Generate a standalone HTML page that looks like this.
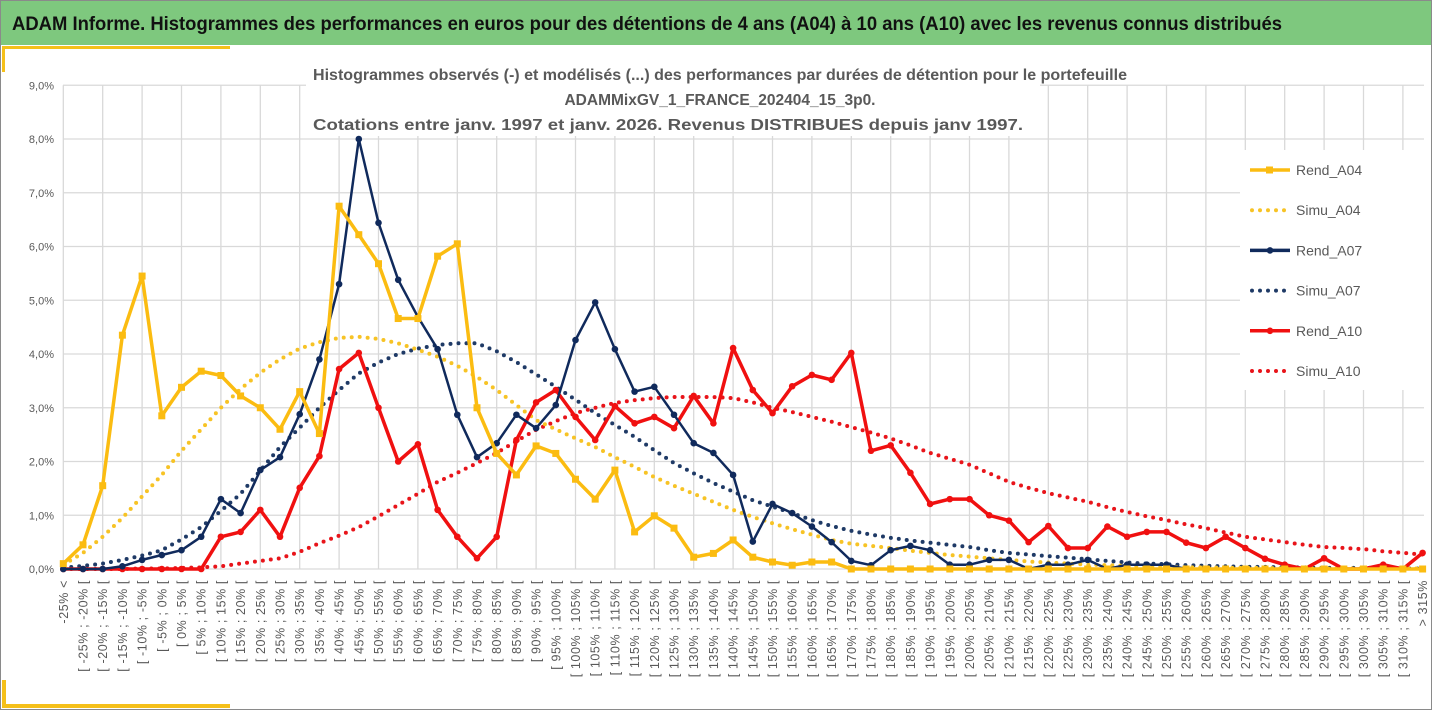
<!DOCTYPE html>
<html><head><meta charset="utf-8"><style>
body{margin:0;width:1432px;height:710px;overflow:hidden;background:#fff;font-family:"Liberation Sans",sans-serif}
</style></head><body>
<svg id="c" width="1432" height="710" xmlns="http://www.w3.org/2000/svg">
<rect x="0.5" y="0.5" width="1431" height="709" fill="#fff" stroke="#8a8a8a"/>
<rect x="1" y="1" width="1430" height="44" fill="#7ec87e"/>
<text x="12" y="30" font-size="19.5" font-weight="bold" fill="#111" textLength="1270" lengthAdjust="spacingAndGlyphs">ADAM Informe. Histogrammes des performances en euros pour des détentions de 4 ans (A04) à 10 ans (A10) avec les revenus connus distribués</text>
<rect x="2" y="46" width="228" height="3" fill="#f5c01a"/>
<rect x="2" y="46" width="3" height="26" fill="#f5c01a"/>
<rect x="2" y="704" width="228" height="4" fill="#f5c01a"/>
<rect x="2" y="680" width="4" height="28" fill="#f5c01a"/>
<g id="grid"></g>
<rect x="306" y="60" width="734" height="76" fill="#fff"/>
<g font-size="15.5" font-weight="bold" fill="#595959" text-anchor="middle">
<text x="720" y="80" textLength="814" lengthAdjust="spacingAndGlyphs">Histogrammes observés (-) et modélisés (...) des performances par durées de détention pour le portefeuille</text>
<text x="720" y="105">ADAMMixGV_1_FRANCE_202404_15_3p0.</text>
<text x="668" y="130" textLength="710" lengthAdjust="spacingAndGlyphs">Cotations  entre janv. 1997 et janv. 2026. Revenus DISTRIBUES depuis janv 1997.</text>
</g>
<g id="series"></g>
<g id="xlabels"></g>
<g id="legend"></g>
</svg>
<script>
const yTicks=[0,1,2,3,4,5,6,7,8,9];
const rendA04=[0.1,0.45,1.55,4.35,5.45,2.85,3.38,3.68,3.6,3.22,3.0,2.6,3.3,2.52,6.75,6.22,5.68,4.66,4.66,5.82,6.05,3.0,2.15,1.75,2.29,2.15,1.67,1.3,1.84,0.69,0.99,0.76,0.22,0.29,0.54,0.22,0.13,0.07,0.13,0.13,0,0,0,0,0,0,0,0,0,0,0,0,0,0,0,0,0,0,0,0,0,0,0,0,0,0,0,0,0,0];
const simuA04=[0.08,0.3,0.6,0.95,1.35,1.75,2.2,2.6,3.0,3.35,3.65,3.9,4.1,4.22,4.3,4.32,4.28,4.2,4.08,3.95,3.78,3.57,3.33,3.05,2.77,2.6,2.43,2.27,2.08,1.9,1.71,1.55,1.4,1.25,1.1,0.97,0.85,0.74,0.64,0.54,0.47,0.43,0.39,0.34,0.3,0.26,0.23,0.2,0.17,0.14,0.12,0.1,0.08,0.07,0.06,0.05,0.04,0.03,0.03,0.02,0.02,0.02,0.01,0.01,0.01,0.01,0.01,0.01,0.01,0.01];
const rendA07=[0,0,0,0.05,0.17,0.26,0.35,0.6,1.3,1.04,1.84,2.08,2.88,3.9,5.3,8.0,6.44,5.38,4.69,4.09,2.87,2.08,2.34,2.87,2.62,3.05,4.26,4.96,4.09,3.3,3.39,2.87,2.34,2.16,1.75,0.51,1.21,1.04,0.79,0.5,0.15,0.07,0.35,0.43,0.35,0.08,0.08,0.17,0.17,0,0.08,0.08,0.17,0,0.08,0.08,0.08,0,0,0,0,0,0,0,0,0,0,0,0,0];
const simuA07=[0.02,0.06,0.1,0.17,0.25,0.35,0.55,0.78,1.08,1.4,1.83,2.27,2.63,3.0,3.33,3.64,3.84,4.0,4.1,4.17,4.2,4.2,4.05,3.85,3.62,3.39,3.15,2.9,2.68,2.46,2.21,1.97,1.78,1.6,1.44,1.28,1.16,1.04,0.91,0.8,0.71,0.64,0.58,0.53,0.49,0.45,0.41,0.35,0.3,0.27,0.24,0.21,0.18,0.15,0.12,0.1,0.09,0.07,0.06,0.05,0.04,0.04,0.03,0.03,0.02,0.02,0.02,0.02,0.01,0.01];
const rendA10=[0,0,0,0,0,0,0,0,0.6,0.69,1.1,0.6,1.51,2.1,3.72,4.02,3.0,2.0,2.32,1.1,0.6,0.2,0.6,2.4,3.1,3.33,2.83,2.4,3.03,2.71,2.83,2.62,3.22,2.71,4.11,3.33,2.9,3.4,3.61,3.52,4.02,2.2,2.3,1.79,1.21,1.3,1.3,1.0,0.9,0.5,0.8,0.39,0.39,0.79,0.6,0.69,0.69,0.49,0.39,0.6,0.39,0.19,0.08,0,0.2,0,0,0.08,0,0.3];
const simuA10=[0,0,0,0,0.01,0.01,0.02,0.03,0.05,0.1,0.15,0.2,0.32,0.48,0.62,0.78,0.98,1.19,1.4,1.62,1.79,1.97,2.16,2.38,2.59,2.75,2.9,3.0,3.09,3.14,3.18,3.2,3.2,3.2,3.18,3.1,3.0,2.92,2.83,2.74,2.64,2.54,2.43,2.3,2.16,2.05,1.94,1.78,1.62,1.51,1.41,1.33,1.25,1.15,1.06,0.98,0.91,0.83,0.76,0.68,0.6,0.55,0.5,0.45,0.41,0.39,0.37,0.33,0.3,0.27];
const NS="http://www.w3.org/2000/svg";
const N=70,X0=63.3,DX=19.7,Y0=569,PY=53.75;
const xs=i=>X0+i*DX, ys=v=>Y0-v*PY;
function mk(t,a,p){const e=document.createElementNS(NS,t);for(const k in a)e.setAttribute(k,a[k]);p.appendChild(e);return e;}
const grid=document.getElementById('grid');
yTicks.forEach(t=>{
 const l=mk('line',{x1:63,x2:1424,y1:ys(t),y2:ys(t),stroke:'#d9d9d9','stroke-width':1.3},grid);
 
 
 const tx=mk('text',{x:54,y:ys(t)+4,'font-size':11,fill:'#595959','text-anchor':'end'},grid);
 tx.textContent=t.toFixed(1).replace('.',',')+'%';
 
 
});
for(let i=0;i<N;i+=2){
 const l=mk('line',{x1:xs(i),x2:xs(i),y1:ys(9),y2:Y0,stroke:'#d9d9d9','stroke-width':1.3},grid);
 
 
}
const cats=[];
for(let i=0;i<N;i++){
 if(i==0)cats.push('-25%  <');
 else if(i==N-1)cats.push('> 315%');
 else{const a=-30+5*i,b=a+5;cats.push('[ '+a+'% ; '+b+'% [');}
}
const xl=document.getElementById('xlabels');
cats.forEach((c,i)=>{
 const t=mk('text',{transform:`translate(${xs(i)+4.5},580) rotate(-90)`,'font-size':12.5,'letter-spacing':'0.6',fill:'#595959','text-anchor':'end'},xl);
 t.textContent=c;
 
 
});
const S=document.getElementById('series');
const series=[
 {d:simuA10,c:'#e8141a',dot:true,n:'simu-a10'},
 {d:simuA07,c:'#1f3a66',dot:true,n:'simu-a07'},
 {d:simuA04,c:'#f7c325',dot:true,n:'simu-a04'},
 {d:rendA10,c:'#f01010',m:'circle',w:3.5,n:'rend-a10'},
 {d:rendA07,c:'#102a5c',m:'circle',w:2.5,n:'rend-a07'},
 {d:rendA04,c:'#fbbc11',m:'square',w:3.5,n:'rend-a04'}
];
series.forEach(s=>{
 const pts=s.d.map((v,i)=>xs(i).toFixed(1)+','+ys(v).toFixed(1)).join(' ');
 const g=mk('g',{},S);
 
 
 if(s.dot){
  mk('polyline',{points:pts,fill:'none',stroke:s.c,'stroke-width':4,'stroke-dasharray':'0 8','stroke-linecap':'round'},g);
 }else{
  mk('polyline',{points:pts,fill:'none',stroke:s.c,'stroke-width':s.w,'stroke-linejoin':'round'},g);
  s.d.forEach((v,i)=>{
   let e;
   if(s.m=='circle')e=mk('circle',{cx:xs(i),cy:ys(v),r:3.3,fill:s.c},g);
   else e=mk('rect',{x:xs(i)-3.5,y:ys(v)-3.5,width:7,height:7,fill:s.c},g);
   
   
  });
 }
});
const L=document.getElementById('legend');
mk('rect',{x:1240,y:150,width:184,height:240,fill:'#fff'},L);
const leg=[['Rend_A04','#fbbc11','square'],['Simu_A04','#f7c325','dot'],['Rend_A07','#102a5c','circle'],['Simu_A07','#1f3a66','dot'],['Rend_A10','#f01010','circle'],['Simu_A10','#e8141a','dot']];
leg.forEach((e,k)=>{
 const y=170+k*40.2;
 const g=mk('g',{},L);
 
 
 if(e[2]=='dot')mk('line',{x1:1252,x2:1290,y1:y,y2:y,stroke:e[1],'stroke-width':4,'stroke-dasharray':'0 8','stroke-linecap':'round'},g);
 else{
  mk('line',{x1:1250,x2:1290,y1:y,y2:y,stroke:e[1],'stroke-width':3.5},g);
  if(e[2]=='square')mk('rect',{x:1266,y:y-3.5,width:7,height:7,fill:e[1]},g);
  else mk('circle',{cx:1270,cy:y,r:3.3,fill:e[1]},g);
 }
 const t=mk('text',{x:1296,y:y+5,'font-size':14,fill:'#595959'},g);
 t.textContent=e[0];
});
</script>
</body></html>
